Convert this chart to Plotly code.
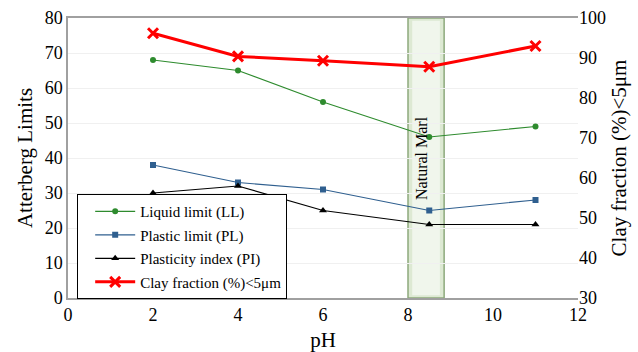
import plotly.graph_objects as go

# Measured values by pH
ph = [2, 4, 6, 8.5, 11]
liquid_limit = [68, 65, 56, 46, 49]
plastic_limit = [38, 33, 31, 25, 28]
plasticity_index = [30, 32, 25, 21, 21]
clay_fraction = [96.2, 90.4, 89.3, 87.8, 93.0]

# Natural marl band along pH
marl_band = [8.0, 8.85]

FONT = "Liberation Serif, Times New Roman, serif"

fig = go.Figure()

fig.add_trace(go.Scatter(
    x=ph, y=liquid_limit, name="Liquid limit (LL)", mode="lines+markers",
    legendgroup="ll",
    line=dict(color="#2e8b2e", width=1.2),
    marker=dict(symbol="circle", size=6, color="#2e8b2e")))
fig.add_trace(go.Scatter(
    x=ph, y=plastic_limit, name="Plastic limit (PL)", mode="lines+markers",
    legendgroup="pl",
    line=dict(color="#2f5f8f", width=1.2),
    marker=dict(symbol="square", size=6, color="#2f5f8f")))
fig.add_trace(go.Scatter(
    x=ph, y=plasticity_index, name="Plasticity index (PI)", mode="lines+markers",
    legendgroup="pi",
    line=dict(color="black", width=1.2),
    marker=dict(symbol="triangle-up", size=7, color="black")))
fig.add_trace(go.Scatter(
    x=ph, y=clay_fraction, name="Clay fraction (%)<5μm", mode="lines+markers",
    legendgroup="clay", yaxis="y2",
    line=dict(color="#ff0000", width=3),
    marker=dict(symbol="x-thin", size=10, color="#ff0000",
                line=dict(color="#ff0000", width=3))))

# Shaded band marking the natural marl
fig.add_shape(type="rect", xref="x", yref="paper",
              x0=marl_band[0], x1=marl_band[1], y0=0, y1=1,
              fillcolor="#dde9d3", line=dict(color="#8da97c", width=1.5),
              layer="below")
fig.add_shape(type="rect", xref="x", yref="paper",
              x0=marl_band[0] + 0.1, x1=marl_band[1] - 0.1, y0=0.01, y1=0.99,
              fillcolor="#f0f6ec", line=dict(width=0), layer="below")
fig.add_annotation(x=(marl_band[0] + marl_band[1]) / 2 - 0.12, xref="x",
                   y=0.5, yref="paper", text="Natural Marl", textangle=-90,
                   showarrow=False, font=dict(family=FONT, size=16, color="black"))

fig.update_layout(
    width=638, height=352,
    margin=dict(l=68, r=60, t=18, b=54, autoexpand=False),
    paper_bgcolor="white", plot_bgcolor="white",
    font=dict(family=FONT, size=18, color="black"),
    xaxis=dict(range=[0, 12], dtick=2, showgrid=False, zeroline=False,
               showline=True, linecolor="#a0a0a0", linewidth=1.5, mirror=True,
               ticks="", automargin=False,
               title=dict(text="pH", font=dict(size=21), standoff=9)),
    yaxis=dict(range=[0, 80], dtick=10, showgrid=True, gridcolor="#f0f0f0",
               zeroline=False, showline=True, linecolor="#a0a0a0", linewidth=1.5,
               ticks="", automargin=False,
               title=dict(text="Atterberg Limits", font=dict(size=21),
                          standoff=6)),
    yaxis2=dict(range=[30, 100], dtick=10, overlaying="y", side="right",
                showgrid=False, zeroline=False, showline=False, ticks="",
                automargin=False,
                title=dict(text="Clay fraction (%)<5μm", font=dict(size=21),
                           standoff=6)),
    legend=dict(x=0.018, y=-0.004, xanchor="left", yanchor="bottom",
                bgcolor="white", bordercolor="black", borderwidth=1,
                font=dict(family=FONT, size=15), tracegroupgap=1,
                itemwidth=40, indentation=12),
    showlegend=True,
)

fig.write_html("out.html")
